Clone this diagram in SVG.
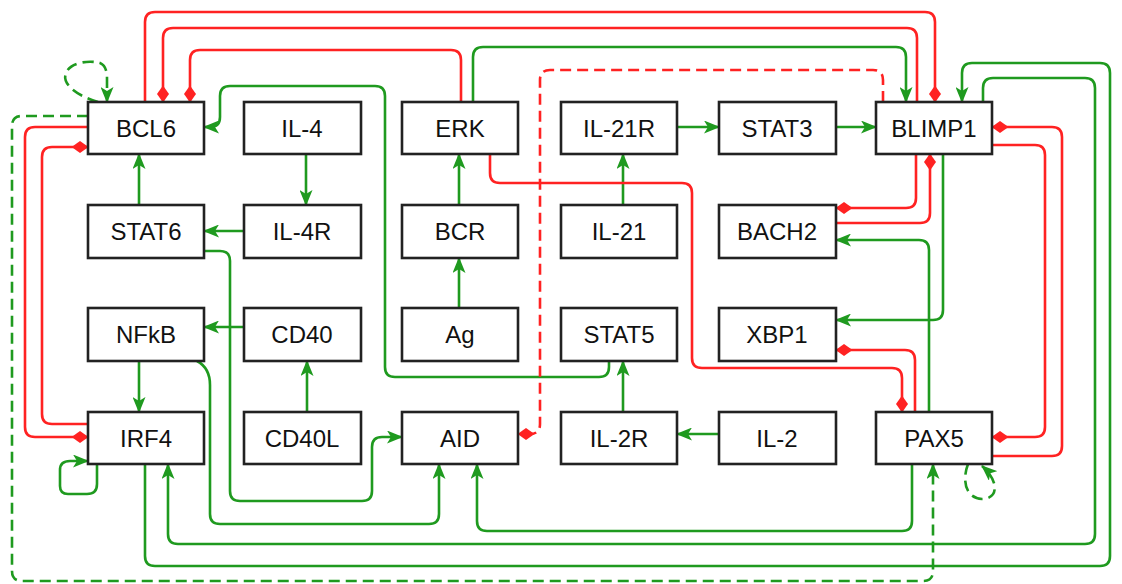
<svg xmlns="http://www.w3.org/2000/svg" width="1122" height="584" viewBox="0 0 1122 584">
<defs>
<style>
.n rect{fill:#fff;stroke:#222;stroke-width:2.6}
.n text{font-family:"Liberation Sans",Arial,sans-serif;font-size:24px;fill:#111;text-anchor:middle}
.g{fill:none;stroke:#1f9a1f;stroke-width:2.6}
.r{fill:none;stroke:#ff2222;stroke-width:2.6}
.d{stroke-dasharray:11 6}
.ga{marker-end:url(#ag)}
.rd{marker-end:url(#dr)}
</style>
<marker id="ag" markerWidth="16" markerHeight="13" refX="15" refY="6.5" orient="auto" markerUnits="userSpaceOnUse"><path d="M0,0 L16,6.5 L0,13 L4,6.5 z" fill="#1f9a1f"/></marker>
<marker id="dr" markerWidth="17" markerHeight="13" refX="16.5" refY="6.5" orient="auto" markerUnits="userSpaceOnUse"><path d="M0,6.5 L8.5,0.5 L17,6.5 L8.5,12.5 z" fill="#ff2222"/></marker>
</defs>
<rect width="1122" height="584" fill="#fff"/>
<g id="connectors">
<path class="g ga" d="M306,154 V205"/>
<path class="g ga" d="M244,231 H204"/>
<path class="g ga" d="M139,205 V154"/>
<path class="g ga" d="M244,327 H204"/>
<path class="g ga" d="M307,412 V361"/>
<path class="g ga" d="M139,361 V412"/>
<path class="g ga" d="M459,308 V258"/>
<path class="g ga" d="M459,205 V154"/>
<path class="g ga" d="M623,205 V154"/>
<path class="g ga" d="M677,127 H719"/>
<path class="g ga" d="M836,127 H876"/>
<path class="g ga" d="M719,434 H677"/>
<path class="g ga" d="M623,412 V361"/>
<path class="g ga" d="M609,361 V367 Q609,377 599,377 H395 Q385,377 385,367 V96 Q385,86 375,86 H230 Q220,86 220,96 V117 Q220,127 210,127 H204"/>
<path class="g ga" d="M204,251 H220 Q230,251 230,261 V491 Q230,501 240,501 H362 Q372,501 372,491 V447 Q372,437 382,437 H402"/>
<path class="g ga" d="M197,361 Q210,368 210,385 V514 Q210,524 220,524 H429 Q439,524 439,514 V464"/>
<path class="g ga" d="M912,464 V521 Q912,531 902,531 H487 Q477,531 477,521 V464"/>
<path class="g ga" d="M983,102 V88 Q983,78 993,78 H1085 Q1095,78 1095,88 V534 Q1095,544 1085,544 H178 Q168,544 168,534 V464"/>
<path class="g ga" d="M145,464 V556 Q145,566 155,566 H1100 Q1110,566 1110,556 V73 Q1110,63 1100,63 H972 Q962,63 962,73 V102"/>
<path class="g ga d" d="M88,116 H22 Q12,116 12,126 V571 Q12,581 22,581 H923 Q933,581 933,571 V464"/>
<path class="g ga d" d="M98,102 C72,94 62,82 66,73 C70,62 90,60 100,63 Q107,66 107,78 V102"/>
<path class="g ga" d="M97,464 V484 Q97,494 87,494 H68 Q60,494 60,486 V470 Q60,461 70,461 H88"/>
<path class="g ga d" d="M968,464 C962,480 965,498 982,499 C998,499 1000,482 982,466"/>
<path class="r rd d" d="M883,102 V80 Q883,70 873,70 H550 Q540,70 540,80 V424 Q540,434 530,434 H518"/>
<path class="r rd" d="M490,154 V173 Q490,183 500,183 H682 Q692,183 692,193 V358 Q692,368 702,368 H892 Q902,368 902,378 V412"/>
<path class="r rd" d="M461,102 V60 Q461,50 451,50 H200 Q190,50 190,60 V102"/>
<path class="r rd" d="M145,102 V22 Q145,12 155,12 H925 Q935,12 935,22 V102"/>
<path class="r rd" d="M917,102 V38 Q917,28 907,28 H173 Q163,28 163,38 V102"/>
<path class="g ga" d="M473,102 V57 Q473,47 483,47 H896 Q906,47 906,57 V102"/>
<path class="r rd" d="M88,127 H35 Q25,127 25,137 V427 Q25,437 35,437 H88"/>
<path class="r rd" d="M88,424 H52 Q42,424 42,414 V157 Q42,147 52,147 H88"/>
<path class="r rd" d="M992,145 H1035 Q1045,145 1045,155 V427 Q1045,437 1035,437 H992"/>
<path class="r rd" d="M992,456 H1052 Q1062,456 1062,446 V137 Q1062,127 1052,127 H992"/>
<path class="r rd" d="M916,154 V198 Q916,208 906,208 H836"/>
<path class="r rd" d="M836,223 H920 Q930,223 930,213 V154"/>
<path class="g ga" d="M943,154 V310 Q943,320 933,320 H836"/>
<path class="g ga" d="M929,412 V250 Q929,240 919,240 H836"/>
<path class="r rd" d="M915,412 V360 Q915,350 905,350 H836"/>
</g>
<g id="BCL6" class="n"><rect x="88" y="102" width="116" height="52"/><text x="146" y="136.5">BCL6</text></g>
<g id="IL-4" class="n"><rect x="244" y="102" width="117" height="52"/><text x="302" y="136.5">IL-4</text></g>
<g id="ERK" class="n"><rect x="402" y="102" width="116" height="52"/><text x="460" y="136.5">ERK</text></g>
<g id="IL-21R" class="n"><rect x="561" y="102" width="116" height="52"/><text x="619" y="136.5">IL-21R</text></g>
<g id="STAT3" class="n"><rect x="719" y="102" width="117" height="52"/><text x="777" y="136.5">STAT3</text></g>
<g id="BLIMP1" class="n"><rect x="876" y="102" width="116" height="52"/><text x="934" y="136.5">BLIMP1</text></g>
<g id="STAT6" class="n"><rect x="88" y="205" width="116" height="53"/><text x="146" y="240">STAT6</text></g>
<g id="IL-4R" class="n"><rect x="244" y="205" width="117" height="53"/><text x="302" y="240">IL-4R</text></g>
<g id="BCR" class="n"><rect x="402" y="205" width="116" height="53"/><text x="460" y="240">BCR</text></g>
<g id="IL-21" class="n"><rect x="561" y="205" width="116" height="53"/><text x="619" y="240">IL-21</text></g>
<g id="BACH2" class="n"><rect x="719" y="205" width="117" height="53"/><text x="777" y="240">BACH2</text></g>
<g id="NFkB" class="n"><rect x="88" y="308" width="116" height="53"/><text x="146" y="343">NFkB</text></g>
<g id="CD40" class="n"><rect x="244" y="308" width="117" height="53"/><text x="302" y="343">CD40</text></g>
<g id="Ag" class="n"><rect x="402" y="308" width="116" height="53"/><text x="460" y="343">Ag</text></g>
<g id="STAT5" class="n"><rect x="561" y="308" width="116" height="53"/><text x="619" y="343">STAT5</text></g>
<g id="XBP1" class="n"><rect x="719" y="308" width="117" height="53"/><text x="777" y="343">XBP1</text></g>
<g id="IRF4" class="n"><rect x="88" y="412" width="116" height="52"/><text x="146" y="446.5">IRF4</text></g>
<g id="CD40L" class="n"><rect x="244" y="412" width="117" height="52"/><text x="302" y="446.5">CD40L</text></g>
<g id="AID" class="n"><rect x="402" y="412" width="116" height="52"/><text x="460" y="446.5">AID</text></g>
<g id="IL-2R" class="n"><rect x="561" y="412" width="116" height="52"/><text x="619" y="446.5">IL-2R</text></g>
<g id="IL-2" class="n"><rect x="719" y="412" width="117" height="52"/><text x="777" y="446.5">IL-2</text></g>
<g id="PAX5" class="n"><rect x="876" y="412" width="116" height="52"/><text x="934" y="446.5">PAX5</text></g>
</svg>
